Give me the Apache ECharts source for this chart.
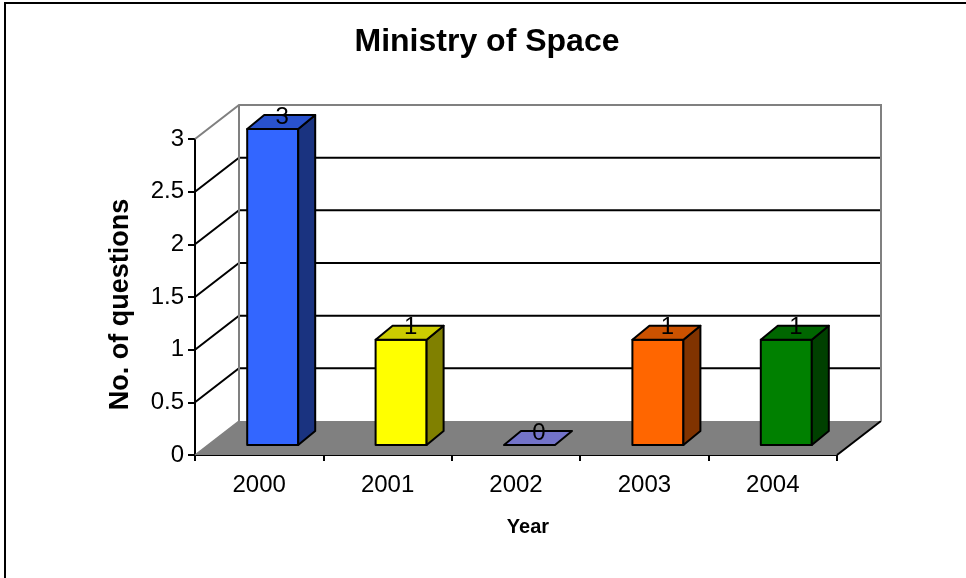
<!DOCTYPE html>
<html><head><meta charset="utf-8">
<script src="https://cdn.jsdelivr.net/npm/echarts@6/dist/echarts.min.js"></script>
<style>html,body{margin:0;padding:0;background:#fff}#c{width:966px;height:578px}</style>
</head><body><div id="c"></div>
<script>
const categories = ['2000', '2001', '2002', '2003', '2004'];
const questions = [3, 1, 0, 1, 1];
const yTicks = [0, 0.5, 1, 1.5, 2, 2.5, 3];
const frontColors = ['#3366FF', '#FFFF00', '#9999FF', '#FF6600', '#008000'];
const topColors = ['#2952CC', '#CCCC00', '#7373C8', '#CC5200', '#006600'];
const sideColors = ['#1A3380', '#808000', '#4D4D80', '#803300', '#004000'];

const FONT = '"Liberation Sans", Arial, sans-serif';
const WALL_DX = 44, WALL_DY = -34;
const BAR_OFF_X = 13.5, BAR_OFF_Y = -10, BAR_HALF = 25.5, BAR_DX = 17, BAR_DY = -14;

const chart = echarts.init(document.getElementById('c'), null, { renderer: 'canvas' });

function renderWall(params, api) {
  const cs = params.coordSys;
  const L = cs.x, R = cs.x + cs.width;
  const y0 = api.coord([0, yTicks[0]])[1];
  const yMax = api.coord([0, yTicks[yTicks.length - 1]])[1];
  const ch = [];
  ch.push({ type: 'polygon', shape: { points: [[L, y0], [L + WALL_DX, y0 + WALL_DY], [R + WALL_DX, y0 + WALL_DY], [R, y0]] },
    style: { fill: '#808080', stroke: null } });
  ch.push({ type: 'polyline', shape: { points: [[L, y0], [L + WALL_DX, y0 + WALL_DY]] }, style: { stroke: '#808080', lineWidth: 1.5, fill: null } });
  ch.push({ type: 'polyline', shape: { points: [[R, y0], [R + WALL_DX, y0 + WALL_DY]] }, style: { stroke: '#000', lineWidth: 2, fill: null } });
  for (let k = 1; k < yTicks.length - 1; k++) {
    const y = api.coord([0, yTicks[k]])[1];
    ch.push({ type: 'polyline', shape: { points: [[L, y], [L + WALL_DX, y + WALL_DY], [R + WALL_DX, y + WALL_DY]] },
      style: { stroke: '#000', lineWidth: 2, fill: null } });
  }
  ch.push({ type: 'polyline', shape: { points: [[L, yMax], [L + WALL_DX, yMax + WALL_DY], [R + WALL_DX, yMax + WALL_DY], [R + WALL_DX, y0 + WALL_DY]] },
    style: { stroke: '#808080', lineWidth: 2, fill: null } });
  ch.push({ type: 'polyline', shape: { points: [[L + WALL_DX, yMax + WALL_DY], [L + WALL_DX, y0 + WALL_DY]] },
    style: { stroke: '#808080', lineWidth: 2, fill: null } });
  return { type: 'group', children: ch };
}

function renderBar(params, api) {
  const i = api.value(0), v = api.value(1);
  const b = api.coord([i, 0]), t = api.coord([i, v]);
  const cx = b[0] + BAR_OFF_X;
  const x0 = cx - BAR_HALF, x1 = cx + BAR_HALF;
  const yb = b[1] + BAR_OFF_Y, yt = t[1] + BAR_OFF_Y;
  const st = { stroke: '#000', lineWidth: 2, lineJoin: 'round' };
  const ch = [];
  if (yb - yt > 0.5) {
    ch.push({ type: 'polygon', shape: { points: [[x0, yb], [x1, yb], [x1, yt], [x0, yt]] }, style: Object.assign({ fill: frontColors[i] }, st) });
    ch.push({ type: 'polygon', shape: { points: [[x1, yb], [x1 + BAR_DX, yb + BAR_DY], [x1 + BAR_DX, yt + BAR_DY], [x1, yt]] }, style: Object.assign({ fill: sideColors[i] }, st) });
  }
  ch.push({ type: 'polygon', shape: { points: [[x0, yt], [x1, yt], [x1 + BAR_DX, yt + BAR_DY], [x0 + BAR_DX, yt + BAR_DY]] }, style: Object.assign({ fill: topColors[i] }, st) });
  ch.push({ type: 'text', style: { text: String(v), x: cx + BAR_DX / 2 + 1, y: yt + BAR_DY / 2 - 5, fill: '#000',
    font: '24px ' + FONT, align: 'center', textAlign: 'center', verticalAlign: 'middle', textVerticalAlign: 'middle' } });
  return { type: 'group', children: ch };
}

chart.setOption({
  animation: false,
  backgroundColor: '#fff',
  grid: { left: 195, right: 129, top: 139, bottom: 123, containLabel: false },
  xAxis: {
    type: 'category', data: categories, boundaryGap: true,
    axisLine: { lineStyle: { color: '#000', width: 2 } },
    axisTick: { show: true, length: 6, alignWithLabel: false, lineStyle: { color: '#000', width: 2 } },
    axisLabel: { color: '#000', fontSize: 24, fontFamily: FONT, margin: 18 },
    splitLine: { show: false },
    name: 'Year', nameLocation: 'middle', nameGap: 62,
    nameTextStyle: { color: '#000', fontSize: 20, fontWeight: 'bold', fontFamily: FONT, padding: [0, 0, 0, 24] }
  },
  yAxis: {
    type: 'value', min: 0, max: 3, interval: 0.5,
    axisLine: { show: true, lineStyle: { color: '#000', width: 2 } },
    axisTick: { show: true, length: 7, lineStyle: { color: '#000', width: 2 } },
    axisLabel: { color: '#000', fontSize: 24, fontFamily: FONT, margin: 11 },
    splitLine: { show: false },
    name: 'No. of questions', nameLocation: 'middle', nameRotate: 90, nameGap: 61,
    nameTextStyle: { color: '#000', fontSize: 27, fontWeight: 'bold', fontFamily: FONT, padding: [0, 15, 0, 0] }
  },
  graphic: [
    { type: 'text', x: 487, y: 42, style: { text: 'Ministry of Space', font: 'bold 32px ' + FONT, fill: '#000',
      align: 'center', textAlign: 'center', verticalAlign: 'middle', textVerticalAlign: 'middle' } },
    { type: 'line', shape: { x1: 5, y1: 3, x2: 5, y2: 578 }, style: { stroke: '#000', lineWidth: 2 } },
    { type: 'line', shape: { x1: 4, y1: 3, x2: 966, y2: 3 }, style: { stroke: '#000', lineWidth: 2 } }
  ],
  series: [
    { type: 'custom', name: 'wall', silent: true, z: 1, clip: false, renderItem: renderWall, data: [[0, 0]], encode: { x: 0, y: 1 } },
    { type: 'custom', name: 'questions', silent: true, z: 3, clip: false, renderItem: renderBar,
      data: questions.map((v, i) => [i, v]), encode: { x: 0, y: 1 } }
  ]
});
</script>
</body></html>
